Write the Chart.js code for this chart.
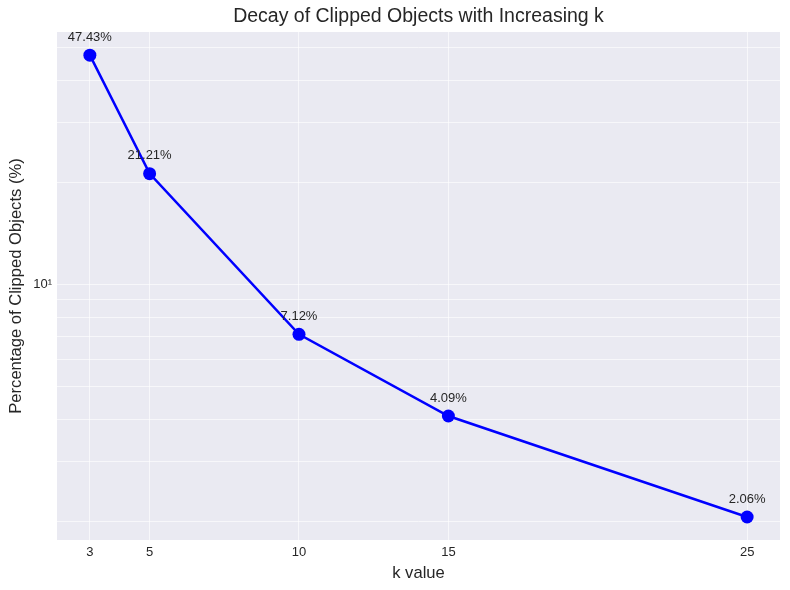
<!DOCTYPE html>
<html><head><meta charset="utf-8">
<script src="https://cdn.jsdelivr.net/npm/chart.js@4/dist/chart.umd.min.js"></script>
<style>html,body{margin:0;padding:0;background:#fff}#wrap{width:790px;height:590px}</style>
</head><body><div id="wrap"><canvas id="c"></canvas></div>
<script>
const kValues = [3, 5, 10, 15, 25];
const clippedPct = [47.43, 21.21, 7.12, 4.09, 2.06];
const xTicks = [3, 5, 10, 15, 25];
const yGridTicks = [2,3,4,5,6,7,8,9,10,20,30,40,50];
const yLabelTicks = {10: '10¹'};
const chartTitle = 'Decay of Clipped Objects with Increasing k';

const FONT = '"Liberation Sans", Arial, sans-serif';
const TXT = '#262626';
const GRID = 'rgba(255,255,255,0.6)';

const bgPlugin = {
  id: 'bg',
  beforeDraw(chart) {
    const {ctx, chartArea: a} = chart;
    ctx.save();
    ctx.fillStyle = '#EAEAF2';
    ctx.fillRect(a.left, a.top, a.right - a.left, a.bottom - a.top);
    ctx.restore();
  }
};
const labelPlugin = {
  id: 'lbl',
  afterDatasetsDraw(chart) {
    const {ctx, chartArea: a, scales: {x, y}} = chart;
    ctx.save();
    ctx.fillStyle = TXT;
    ctx.textAlign = 'center';
    ctx.textBaseline = 'middle';
    ctx.font = '19.5px ' + FONT;
    ctx.fillText(chartTitle, (a.left + a.right) / 2, 17);
    ctx.font = '13px ' + FONT;
    kValues.forEach((k, i) => {
      const px = x.getPixelForValue(k), py = y.getPixelForValue(clippedPct[i]);
      ctx.fillText(clippedPct[i].toFixed(2) + '%', px, py - 18);
    });
    ctx.restore();
  }
};

new Chart(document.getElementById('c'), {
  type: 'line',
  data: {
    datasets: [{
      data: kValues.map((k, i) => ({x: k, y: clippedPct[i]})),
      borderColor: '#0000FF',
      backgroundColor: '#0000FF',
      borderWidth: 2.5,
      pointRadius: 6.5,
      pointHoverRadius: 6.5,
      pointBorderWidth: 0,
      tension: 0
    }]
  },
  options: {
    responsive: true,
    maintainAspectRatio: false,
    animation: false,
    layout: {padding: {top: 32, right: 10, bottom: 0, left: 0}},
    plugins: {
      legend: {display: false},
      tooltip: {enabled: false},
      title: {display: false}
    },
    scales: {
      x: {
        type: 'linear',
        min: 1.9, max: 26.1,
        afterBuildTicks(s) { s.ticks = xTicks.map(v => ({value: v})); },
        afterFit(s) { s.height = 50; },
        grid: {color: GRID, lineWidth: 1, drawTicks: false},
        border: {display: false},
        ticks: {color: TXT, font: {family: FONT, size: 13}, padding: 5, maxRotation: 0,
          callback: v => String(v)},
        title: {display: true, text: 'k value', color: TXT,
          font: {family: FONT, size: 16.6}, padding: {top: 0, bottom: 7}}
      },
      y: {
        type: 'logarithmic',
        min: 1.762, max: 55.5,
        afterBuildTicks(s) { s.ticks = yGridTicks.map(v => ({value: v, major: v === 10})); },
        afterFit(s) { s.width = 57; },
        grid: {color: GRID, lineWidth: 1, drawTicks: false},
        border: {display: false},
        ticks: {color: TXT, font: {family: FONT, size: 13}, padding: 5, autoSkip: false,
          callback: v => yLabelTicks[v] || ''},
        title: {display: true, text: 'Percentage of Clipped Objects (%)', color: TXT,
          font: {family: FONT, size: 16.6}, padding: {top: 6, bottom: 0}}
      }
    }
  },
  plugins: [bgPlugin, labelPlugin]
});
</script></body></html>
